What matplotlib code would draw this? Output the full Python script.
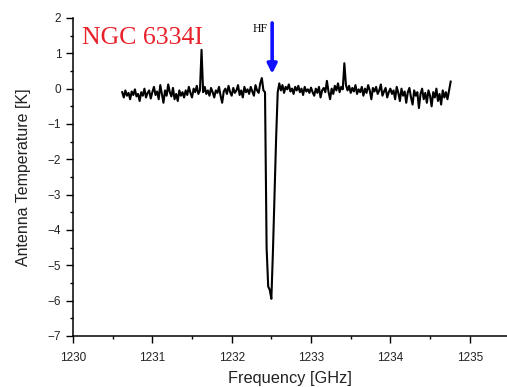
import numpy as np
import matplotlib
matplotlib.use("Agg")
import matplotlib.pyplot as plt
from matplotlib.ticker import MultipleLocator

# channel grid of the spectrum (GHz), 0.02 GHz spacing
freq = np.round(np.arange(1230.62, 1234.77, 0.02), 2)

# antenna temperature (K) (10 channels each)
temp = [
    -0.10, -0.25, -0.05, -0.20, -0.12, -0.30, -0.08, -0.18, -0.02, -0.22,
    -0.15, -0.35, -0.10, -0.20, 0.00, -0.25, -0.12, -0.05, -0.28, -0.10,
    0.05, -0.18, -0.08, -0.30, 0.10, -0.15, -0.40, -0.05, -0.20, 0.12,
    -0.10, -0.22, 0.02, -0.30, -0.15, -0.35, -0.05, -0.20, -0.10, -0.25,
    -0.05, -0.18, 0.05, -0.12, -0.25, 0.00, -0.10, 0.08, -0.15, -0.05,
    1.10, -0.10, 0.05, -0.15, -0.05, -0.20, 0.02, -0.10, -0.25, -0.05,
    -0.12, 0.05, -0.20, -0.40, -0.08, 0.00, -0.15, 0.08, -0.10, -0.20,
    0.02, -0.12, -0.05, 0.10, -0.18, -0.05, -0.25, 0.05, -0.10, -0.02,
    -0.15, 0.05, -0.08, -0.20, 0.10, -0.05, -0.12, 0.15, 0.30, -0.05,
    -0.10, -4.50, -5.60, -5.70, -5.95, -4.60, -3.00, -1.40, -0.10, 0.15,
    -0.05, 0.10, -0.12, 0.05, -0.02, 0.12, -0.08, 0.00, -0.15, 0.05,
    -0.05, 0.08, -0.10, 0.00, -0.18, 0.05, -0.08, -0.02, -0.12, 0.03,
    -0.10, -0.20, 0.00, -0.12, 0.05, -0.25, -0.05, 0.02, -0.10, 0.22,
    -0.08, -0.30, 0.00, -0.15, 0.08, -0.05, 0.15, -0.10, 0.05, -0.02,
    0.72, 0.10, -0.05, 0.08, -0.12, 0.02, -0.08, 0.10, -0.15, -0.02,
    -0.10, 0.05, -0.20, 0.00, -0.12, 0.10, -0.05, -0.30, 0.02, -0.08,
    0.05, -0.15, -0.05, 0.12, -0.20, -0.08, 0.02, -0.25, -0.10, 0.00,
    -0.15, -0.05, -0.30, 0.05, -0.12, -0.35, 0.00, -0.20, -0.08, -0.40,
    -0.10, 0.02, -0.25, -0.45, -0.05, -0.20, -0.10, -0.55, -0.15, 0.00,
    -0.30, -0.12, -0.40, -0.05, -0.20, -0.50, -0.10, -0.25, 0.00, -0.35,
    -0.15, -0.45, -0.05, -0.25, -0.10, -0.30, -0.05, 0.20,
]

source = "NGC 6334I"
line_name = "HF"
hf_freq = 1232.51

plt.rcParams["font.family"] = ["Liberation Sans", "DejaVu Sans"]

fig = plt.figure(figsize=(5.07, 3.87), dpi=100)
ax = fig.add_axes([0.144, 0.132, 0.856, 0.8215])

ax.plot(freq, temp, color="black", lw=1.5)

ax.set_xlim(1230, 1235.47)
ax.set_ylim(-7, 2)
ax.xaxis.set_major_locator(MultipleLocator(1))
ax.xaxis.set_minor_locator(MultipleLocator(0.5))
ax.yaxis.set_major_locator(MultipleLocator(1))
ax.yaxis.set_minor_locator(MultipleLocator(0.5))
ax.tick_params(which="major", length=5, width=1, labelsize=8.5,
               labelcolor="#222222")
ax.tick_params(which="minor", length=2.5, width=1)
ax.tick_params(axis="x", which="major", pad=6.5)
ax.spines["top"].set_visible(False)
ax.spines["right"].set_visible(False)
ax.spines["left"].set_linewidth(1.1)
ax.spines["bottom"].set_linewidth(1.1)

ax.set_xlabel("Frequency [GHz]", fontsize=11.8, color="#222222", labelpad=5)
ax.set_ylabel("Antenna Temperature [K]", fontsize=11.5, color="#222222",
              labelpad=12)

ax.text(1230.11, 1.27, source, color="#e8202a", fontsize=18.5,
        family="Liberation Serif", va="baseline", ha="left")
ax.text(1232.26, 1.59, line_name, color="black", fontsize=8.5,
        family="Liberation Serif", va="baseline", ha="left")
ax.annotate("", xy=(hf_freq, 0.42), xytext=(hf_freq, 1.86),
            arrowprops=dict(arrowstyle="-|>", color="#1010ff", lw=2.6,
                            mutation_scale=14, shrinkA=0, shrinkB=0))

fig.savefig("out.png", dpi=100)
